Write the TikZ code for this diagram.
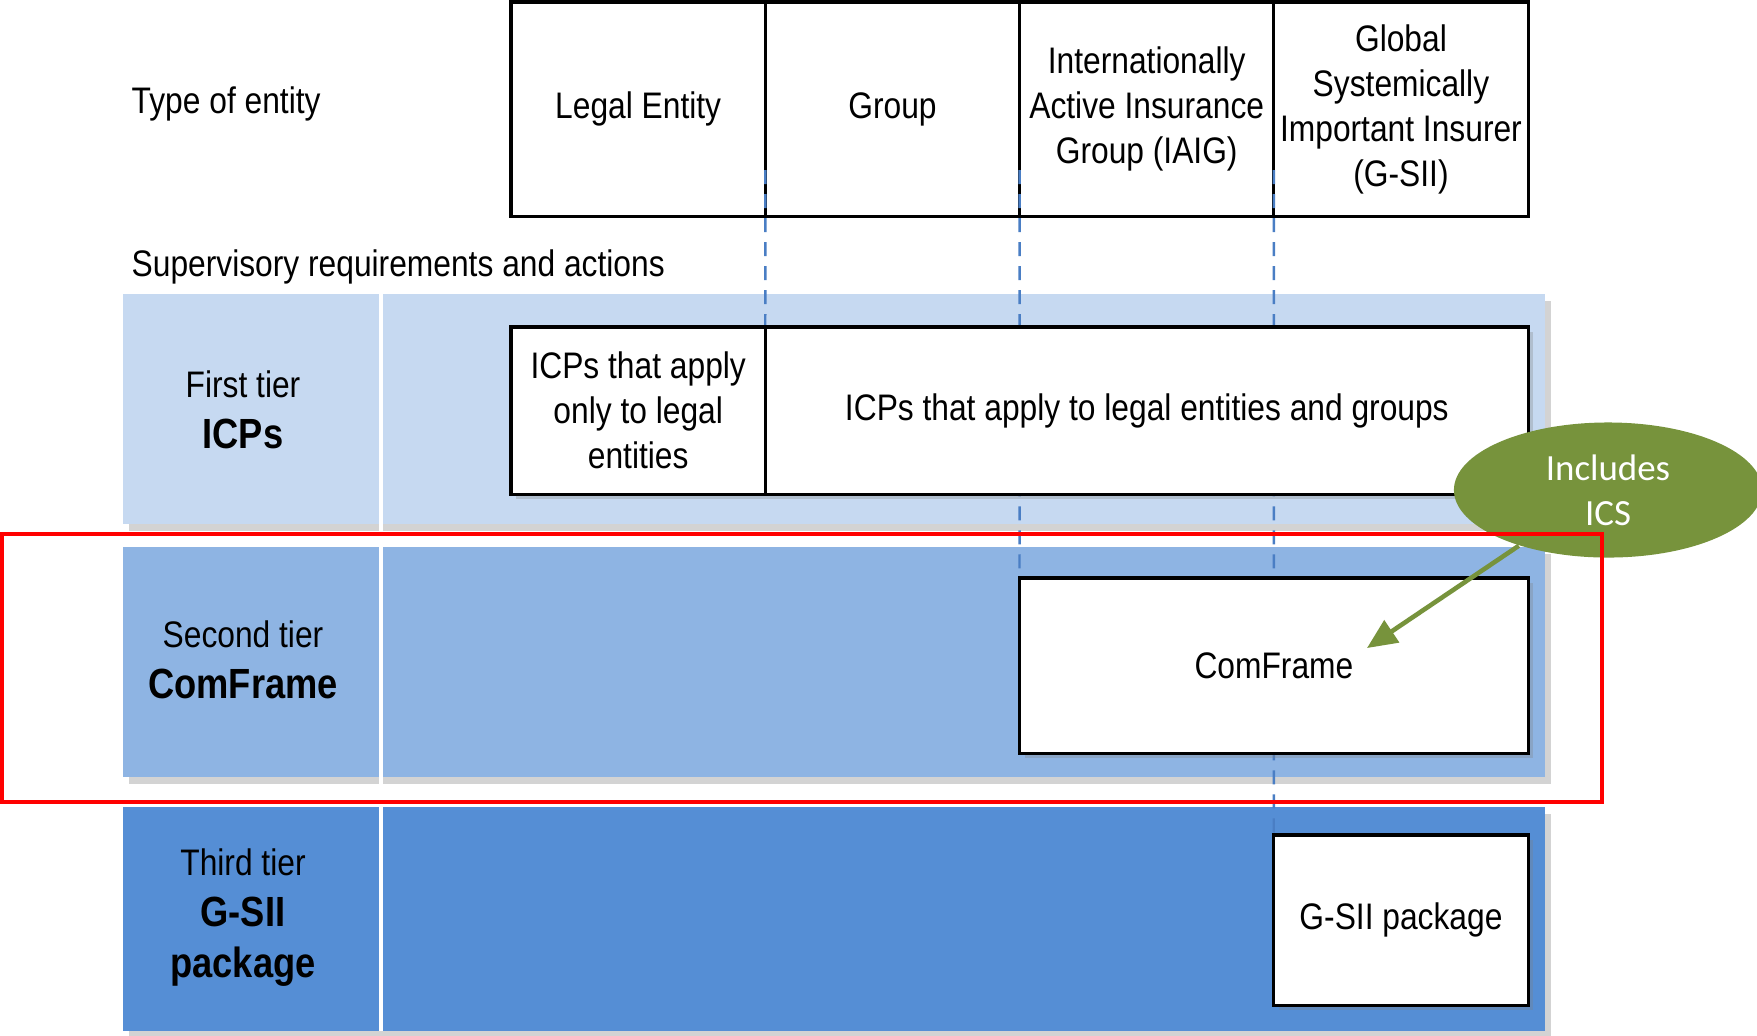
\documentclass[tikz,border=0pt]{standalone}
\usepackage{fontspec}
\setmainfont[FakeStretch=0.86]{Liberation Sans}
\newfontfamily\calloutfont{Carlito}
\usepackage{tikz}
\usetikzlibrary{arrows.meta,positioning,shapes.geometric,shadows}
\definecolor{tierone}{HTML}{C6D9F1}
\definecolor{tiertwo}{HTML}{8EB4E3}
\definecolor{tierthree}{HTML}{558ED5}
\definecolor{guideblue}{HTML}{4A7EC4}
\definecolor{olive}{HTML}{77933C}
\definecolor{alertred}{HTML}{FF0000}
\newcommand{\bodysize}{\fontsize{10.5}{12.8}\selectfont}

\tikzset{
    cell/.style={draw=black, line width=0.9pt, fill=white, inner xsep=0.5pt, outer sep=0pt,
        align=center, font=\bodysize, anchor=north west},
    tierbox/.style={cell, drop shadow={shadow xshift=0.5mm, shadow yshift=-0.5mm, opacity=0.3}},
    band/.style={anchor=north west, inner sep=0pt, outer sep=0pt, minimum width=14.21cm,
        drop shadow={shadow xshift=0.6mm, shadow yshift=-0.7mm, opacity=0.35}},
    tierlabel/.style={align=center, font=\fontsize{12}{14.5}\selectfont},
    caption/.style={anchor=west, inner sep=0pt, font=\bodysize},
    guide/.style={guideblue, line width=0.7pt, dash pattern=on 1.4mm off 1mm},
    pointer/.style={-{Triangle[length=3mm,width=2.6mm]}, line width=1.3pt, olive},
}

\begin{document}
\begin{tikzpicture}[x=0.01cm, y=-0.01cm]
    \useasboundingbox (0,0) rectangle (1757,1035);

    % Row captions
    \node[caption] (typecap) at (131,104) {Type of entity};
    \node[caption] (supcap) at (131,267) {Supervisory requirements and actions};

    % Tier bands
    \node[band, fill=tierone, minimum height=2.30cm] (tone) at (123,294) {};
    \node[band, fill=tiertwo, minimum height=2.30cm] (ttwo) at (123,547) {};
    \node[band, fill=tierthree, minimum height=2.24cm] (tthree) at (123,807) {};
    \draw[white, line width=1pt] ([xshift=2.58cm]tone.north west) -- ([xshift=2.58cm]tthree.south west);

    % Tier names
    \node[tierlabel] (onelbl) at (243,410) {{\bodysize First tier}\\\textbf{ICPs}};
    \node[tierlabel] (twolbl) at (243,660) {{\bodysize Second tier}\\\textbf{ComFrame}};
    \node[tierlabel] (threelbl) at (243,918) {{\bodysize Third tier}\\\textbf{G-SII}\\\textbf{package}};

    % Type of entity header
    \node[cell, minimum width=2.5425cm, minimum height=2.14cm] (legal) at (511,2) {Legal Entity};
    \node[cell, minimum width=2.5425cm, minimum height=2.14cm] (grp) at (765.25,2) {Group};
    \node[cell, minimum width=2.5425cm, minimum height=2.14cm] (iaig) at (1019.5,2) {Internationally\\Active Insurance\\Group (IAIG)};
    \node[cell, minimum width=2.5425cm, minimum height=2.14cm] (gsii) at (1273.75,2) {Global\\Systemically\\Important Insurer\\(G-SII)};

    % Guide lines
    \draw[guide] ([yshift=4.6mm]legal.south east) -- (765.25,327);
    \draw[guide] ([yshift=4.6mm]grp.south east) -- (1019.5,578);
    \draw[guide] ([yshift=4.6mm]iaig.south east) -- (1273.75,835);

    % Requirement boxes
    \node[tierbox, minimum width=2.5425cm, minimum height=1.67cm] (icplegal) at (511,327) {ICPs that apply\\only to legal\\entities};
    \node[tierbox, minimum width=7.6275cm, minimum height=1.67cm] (icpall) at (765.25,327) {ICPs that apply to legal entities and groups};
    \node[tierbox, minimum width=5.085cm, minimum height=1.75cm] (cf) at (1019.5,578) {ComFrame};
    \node[tierbox, minimum width=2.5425cm, minimum height=1.70cm] (pkg) at (1273.75,835) {G-SII package};

    % Callout
    \node[ellipse, fill=olive, inner sep=0pt, minimum width=3.08cm, minimum height=1.35cm, text=white,
        align=center, font=\calloutfont\fontsize{10.5}{12.8}\selectfont] (ics) at (1608,490) {Includes\\ICS};
    \draw[pointer] (ics.212) -- ([xshift=0.93cm,yshift=0.175cm]cf.center);

    % Highlight frame
    \draw[alertred, line width=1.4pt] (2,534) rectangle (1602,802);

\end{tikzpicture}
\end{document}
